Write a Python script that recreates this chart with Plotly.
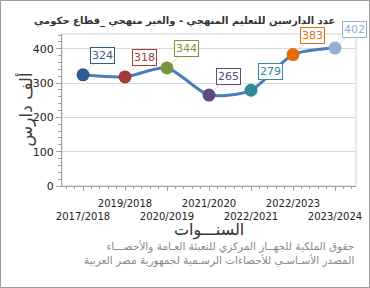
import plotly.graph_objects as go

years = ["2017/2018", "2019/2018", "2020/2019", "2021/2020",
         "2022/2021", "2022/2023", "2023/2024"]
students = [324, 318, 344, 265, 279, 383, 402]
point_colors = ["#2f5b94", "#a33b39", "#77963c", "#5f4a7e",
                "#31879c", "#e36c0a", "#93b1d6"]

title_text = "عدد الدارسين للتعليم المنهجي - والغير منهجي _قطاع حكومي"
y_title = "ألف دارس"
x_title = "السنـــوات"
source_lines = ["حقوق الملكية للجهــاز المركزي للتعبئة العـامة والأحصـــاء",
                "المصدر الأسـاسـي للأحصاءات الرسـمية لجمهورية مصر العربية"]

font = "DejaVu Sans"
x_pos = list(range(len(years)))
# staggered category labels: even index on the lower row
tick_text = [("<br>" + y) if i % 2 == 0 else (y + "<br> ") for i, y in enumerate(years)]

fig = go.Figure()

fig.add_trace(go.Scatter(
    x=x_pos, y=students,
    mode="lines+markers",
    line=dict(color="#4a7ebb", width=3, shape="spline", smoothing=0.7),
    marker=dict(size=13, color=point_colors, line=dict(width=0)),
    hoverinfo="skip",
))

for x, v, c in zip(x_pos, students, point_colors):
    fig.add_annotation(
        x=x, y=v, text=str(v), showarrow=True, ax=19, ay=-19,
        arrowhead=0, arrowwidth=0.6, arrowcolor="#bbbbbb", standoff=6,
        font=dict(family=font, size=11, color=c),
        bgcolor="white", bordercolor=c, borderwidth=1, borderpad=1,
    )

# plot area border (top/right light)
fig.add_shape(type="rect", xref="paper", yref="paper", x0=0, x1=1, y0=0, y1=1,
              line=dict(color="#d4d4d4", width=1), layer="below")
# outer frame
fig.add_shape(type="rect", xref="paper", yref="paper",
              x0=-0.2092, x1=1.0459, y0=-0.6678, y1=1.2204,
              line=dict(color="#9a9a9a", width=1))

fig.add_annotation(xref="paper", yref="paper", x=0.415, y=1.2204 - 13 / 152,
                   text="<b>" + title_text + "</b>", showarrow=False,
                   font=dict(family=font, size=10, color="#333333"))
fig.add_annotation(xref="paper", yref="paper", x=-0.17, y=0.5,
                   text=y_title, textangle=-90, showarrow=False,
                   font=dict(family=font, size=17, color="#404040"))
fig.add_annotation(xref="paper", yref="paper", x=0.5, y=-(242 - 186) / 152,
                   text=x_title, showarrow=False,
                   font=dict(family=font, size=16, color="#303030"))
fig.add_annotation(xref="paper", yref="paper", x=1.0, y=-(269 - 186) / 152,
                   text=source_lines[0] + "<br>" + source_lines[1],
                   showarrow=False, xanchor="right", align="right",
                   font=dict(family=font, size=10.5, color="#8a8a8a"))

fig.update_layout(
    width=370, height=288, autosize=False,
    margin=dict(l=62, r=14, t=34, b=102, autoexpand=False),
    paper_bgcolor="white", plot_bgcolor="white",
    showlegend=False,
    font=dict(family=font, size=11, color="#222222"),
    xaxis=dict(
        range=[-0.5, 6.5], tickvals=x_pos, ticktext=tick_text,
        tickangle=0, automargin=False, ticklabelstandoff=4,
        showgrid=False, zeroline=False,
        showline=True, linecolor="#a0a0a0", linewidth=1,
        ticks="outside", ticklen=4, tickcolor="#a0a0a0",
        minor=dict(dtick=0.2, tick0=0, ticks="outside", ticklen=2, tickcolor="#a0a0a0"),
        tickfont=dict(family=font, size=10),
    ),
    yaxis=dict(
        range=[0, 443], tickvals=[0, 100, 200, 300, 400], automargin=False,
        showgrid=True, gridcolor="#d9d9d9", gridwidth=1, zeroline=False,
        showline=True, linecolor="#a0a0a0", linewidth=1,
        ticks="outside", ticklen=5, tickcolor="#a0a0a0",
        minor=dict(dtick=20, ticks="outside", ticklen=3, tickcolor="#a0a0a0", showgrid=False),
        tickfont=dict(family=font, size=11),
    ),
)

fig.write_html("out.html", config={"displayModeBar": False},
               post_script="document.body.style.margin='0';document.body.style.overflow='hidden';")
